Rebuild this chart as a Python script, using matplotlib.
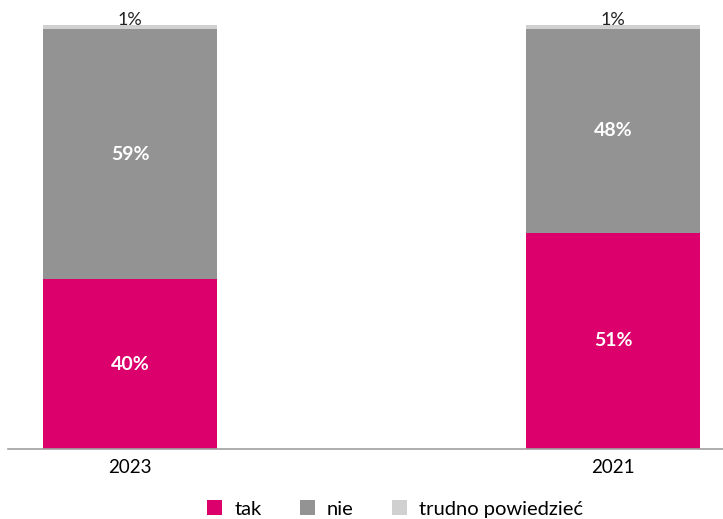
import matplotlib.pyplot as plt
import numpy as np

plt.rcParams['font.family'] = ['Lato', 'DejaVu Sans']

# survey answers by year (percent)
years = ['2023', '2021']
tak = [40, 51]
nie = [59, 48]
trudno = [1, 1]

colors = ['#DB006B', '#939393', '#D0D0D0']
names = ['tak', 'nie', 'trudno powiedzieć']

fig = plt.figure(figsize=(7.23, 5.19), dpi=100)
ax = fig.add_axes([8 / 723, 70 / 519, 715 / 723, 424 / 519])

x = np.arange(len(years))
w = 0.36
bottom = np.zeros(len(years))
for vals, col, name in zip([tak, nie, trudno], colors, names):
    ax.bar(x, vals, w, bottom=bottom, color=col, label=name)
    for xi, b, v in zip(x, bottom, vals):
        if v >= 5:
            ax.text(xi, b + v / 2, f'{v}%', ha='center', va='center',
                    color='white', fontsize=14, fontweight='bold')
        else:
            ax.text(xi, b + v - 0.6, f'{v}%', ha='center', va='bottom',
                    color='#222222', fontsize=13, clip_on=False)
    bottom += np.array(vals)

ax.set_xlim(-0.2526, 1.2277)
ax.set_ylim(0, 100)
ax.set_xticks(x)
ax.set_xticklabels(years, fontsize=13.5)
ax.tick_params(axis='x', length=0, pad=7)
ax.set_yticks([])
for s in ['top', 'right', 'left']:
    ax.spines[s].set_visible(False)
ax.spines['bottom'].set_color('#A0A0A0')
ax.spines['bottom'].set_linewidth(1.2)

fig.legend(loc='center', bbox_to_anchor=(395 / 723, 1 - 509 / 519), ncol=3,
           frameon=False, fontsize=14.5, handlelength=0.75, handleheight=0.75,
           columnspacing=1.9, handletextpad=0.6)

fig.savefig('out.png', dpi=100)
